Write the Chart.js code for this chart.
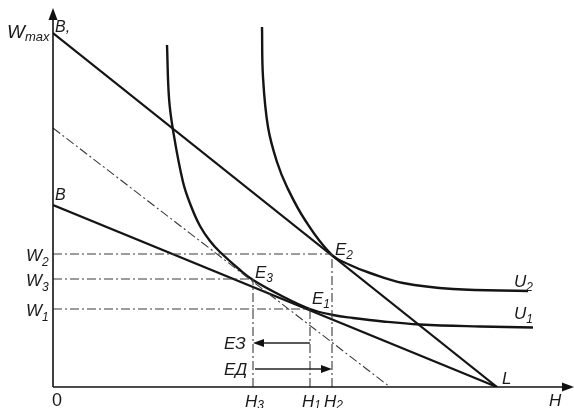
<!DOCTYPE html>
<html>
<head>
<meta charset="utf-8">
<script src="https://cdn.jsdelivr.net/npm/chart.js@4/dist/chart.umd.min.js"></script>
<style>
html,body{margin:0;padding:0;background:#fff;}
canvas{display:block;}
</style>
</head>
<body>
<canvas id="c" width="574" height="408"></canvas>
<script>
// ---- data (hours H on x, income W on y) ----
const budgetNewX = [0, 444];     // B'L
const budgetNewY = [354, 0];
const budgetOldX = [0, 444];     // BL
const budgetOldY = [182, 0];
const budgetCompX = [0, 337];    // compensating line
const budgetCompY = [259, 0];

const u1X = [114, 116, 120, 130, 138, 147, 157, 167, 187, 200, 227, 257, 280, 300, 330, 367, 427, 480];
const u1Y = [342, 289, 257, 205, 181, 161, 146, 135, 117, 107, 92, 78, 72, 69, 65.5, 62.5, 60.5, 59.5];
const u2X = [209, 210, 215, 224, 234, 252, 278, 297, 317, 350, 400, 475];
const u2Y = [360, 310, 260, 225, 200, 167, 133, 122, 114, 104, 98, 96];

const wLevels = [78, 133, 108];   // W1, W2, W3
const hLevels = [257, 279, 200];  // H1, H2, H3
const pointNames = ['1', '2', '3'];

const toPts = (xs, ys) => xs.map((x, i) => ({x: x, y: ys[i]}));

const solid = (data, w) => ({data: data, showLine: true, borderColor: '#141414', borderWidth: w,
  pointRadius: 0, fill: false});
const dashed = (data) => ({data: data, showLine: true, borderColor: '#3a3a3a', borderWidth: 1.1,
  borderDash: [9, 3, 2, 3], pointRadius: 0, fill: false});

const datasets = [];
wLevels.forEach((w, i) => {
  datasets.push(dashed([{x: 0, y: w}, {x: hLevels[i], y: w}]));
  datasets.push(dashed([{x: hLevels[i], y: 0}, {x: hLevels[i], y: w}]));
});
datasets.push(dashed(toPts(budgetCompX, budgetCompY)));
datasets.push(solid(toPts(budgetNewX, budgetNewY), 2.2));
datasets.push(solid(toPts(budgetOldX, budgetOldY), 2.2));
datasets.push(Object.assign(solid(toPts(u1X, u1Y), 2.4), {tension: 0.4}));
datasets.push(Object.assign(solid(toPts(u2X, u2Y), 2.4), {tension: 0.4}));

function lbl(ctx, main, sub, x, y, size, subSize, subDy) {
  ctx.font = 'italic ' + size + 'px "Liberation Sans", Arial, sans-serif';
  ctx.fillText(main, x, y);
  if (sub) {
    const w = ctx.measureText(main).width;
    ctx.font = 'italic ' + subSize + 'px "Liberation Sans", Arial, sans-serif';
    ctx.fillText(sub, x + w, y + subDy);
  }
}

function arrow(ctx, x1, y, x2) {
  const dir = x2 > x1 ? 1 : -1;
  ctx.strokeStyle = '#222'; ctx.fillStyle = '#111'; ctx.lineWidth = 1.3;
  ctx.beginPath(); ctx.moveTo(x1, y); ctx.lineTo(x2 - dir * 8, y); ctx.stroke();
  ctx.beginPath(); ctx.moveTo(x2, y); ctx.lineTo(x2 - dir * 11, y - 4); ctx.lineTo(x2 - dir * 11, y + 4);
  ctx.closePath(); ctx.fill();
}

const overlay = {
  id: 'overlay',
  afterDatasetsDraw(chart) {
    const ctx = chart.ctx, xs = chart.scales.x, ys = chart.scales.y;
    const X = v => xs.getPixelForValue(v), Y = v => ys.getPixelForValue(v);
    const ox = X(0), oy = Y(0);
    ctx.save();
    // axes
    ctx.strokeStyle = '#111'; ctx.fillStyle = '#111'; ctx.lineWidth = 1.6;
    ctx.beginPath(); ctx.moveTo(ox, oy); ctx.lineTo(ox, 16); ctx.stroke();
    ctx.beginPath(); ctx.moveTo(ox, 8); ctx.lineTo(ox - 4.5, 20); ctx.lineTo(ox + 4.5, 20); ctx.closePath(); ctx.fill();
    ctx.beginPath(); ctx.moveTo(ox, oy); ctx.lineTo(566, oy); ctx.stroke();
    ctx.beginPath(); ctx.moveTo(574, oy); ctx.lineTo(562, oy - 4.5); ctx.lineTo(562, oy + 4.5); ctx.closePath(); ctx.fill();

    // effect arrows
    arrow(ctx, X(hLevels[0]), Y(44), X(hLevels[2]));
    arrow(ctx, X(hLevels[2]) + 2, Y(18), X(hLevels[1]));

    // text
    ctx.fillStyle = '#1a1a1a';
    ctx.textBaseline = 'alphabetic';
    lbl(ctx, 'W', 'max', 7, 38, 19, 13, 3);
    lbl(ctx, 'B,', null, ox + 2, 32, 16);
    lbl(ctx, 'B', null, ox + 2, Y(budgetOldY[0]) - 5, 16);
    [1, 2, 0].forEach(i => {
      lbl(ctx, 'W', pointNames[i], 26, Y(wLevels[i]) + 7, 17, 12, 5);
    });
    // points E
    lbl(ctx, 'E', '2', X(hLevels[1]) + 3, Y(wLevels[1]) + 1, 17, 12, 4);
    lbl(ctx, 'E', '3', X(hLevels[2]) + 2, Y(wLevels[2]) - 1, 17, 12, 4);
    lbl(ctx, 'E', '1', X(hLevels[0]) + 2, Y(wLevels[0]) - 5, 17, 12, 4);
    // H labels
    [2, 0, 1].forEach(i => {
      lbl(ctx, 'H', pointNames[i], X(hLevels[i]) - 8, 407, 17, 12, 2);
    });
    ctx.font = '18px "Liberation Sans", Arial, sans-serif';
    ctx.fillText('0', ox - 1, 406);
    lbl(ctx, 'H', null, 549, 406, 17);
    lbl(ctx, 'L', null, X(budgetOldX[1]) + 5, oy - 3, 17);
    lbl(ctx, 'U', '2', 514, Y(u2Y[u2Y.length - 1]) - 4, 17, 12, 4);
    lbl(ctx, 'U', '1', 514, Y(u1Y[u1Y.length - 1]) - 9, 17, 12, 4);
    lbl(ctx, 'ЕЗ', null, 224, Y(44) + 6, 17);
    lbl(ctx, 'ЕД', null, 224, Y(18) + 6, 17);
    ctx.restore();
  }
};

new Chart(document.getElementById('c'), {
  type: 'scatter',
  data: {datasets: datasets},
  options: {
    responsive: false,
    animation: false,
    layout: {padding: {left: 53, top: 10, right: 0, bottom: 21}},
    plugins: {legend: {display: false}, tooltip: {enabled: false}},
    scales: {
      x: {type: 'linear', min: 0, max: 521, display: false},
      y: {type: 'linear', min: 0, max: 377, display: false}
    }
  },
  plugins: [overlay]
});
</script>
</body>
</html>
